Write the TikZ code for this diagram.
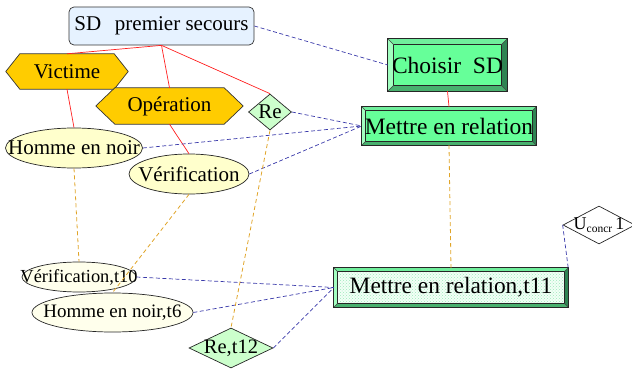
\documentclass[tikz,border=0pt]{standalone}
\usepackage{fontspec}
\setmainfont{Liberation Serif}
\usetikzlibrary{shapes.geometric,calc,patterns}

\definecolor{sdfill}{HTML}{E6F2FF}
\definecolor{hexfillc}{HTML}{FFCC00}
\definecolor{ellfill}{HTML}{FFFFCC}
\definecolor{ellpale}{HTML}{FFFFEC}
\definecolor{diafill}{HTML}{CCFFCC}
\definecolor{face}{HTML}{66FF99}
\definecolor{bvlight}{HTML}{A2FFC0}
\definecolor{bvtop}{HTML}{70EE9C}
\definecolor{bvright}{HTML}{2F8453}
\definecolor{bvbottom}{HTML}{48B06E}
\definecolor{meshbg}{HTML}{F2FFF6}
\definecolor{meshfg}{HTML}{9EEABC}
\definecolor{linkblue}{HTML}{3A3AAA}
\definecolor{linkgold}{HTML}{E0A428}
\definecolor{linkred}{HTML}{FF2020}

\newcommand\txtsize[1]{\fontsize{#1}{#1}\selectfont}

% bevelled frame around a rectangular node: name, bevel, left, top, right, bottom, face style
\newcommand\bevelbox[7]{%
  \coordinate (bA) at (#1.north west);
  \coordinate (bB) at (#1.north east);
  \coordinate (bC) at (#1.south east);
  \coordinate (bD) at (#1.south west);
  \coordinate (iA) at ($(bA)+(#2,#2)$);
  \coordinate (iB) at ($(bB)+(-#2,#2)$);
  \coordinate (iC) at ($(bC)+(-#2,-#2)$);
  \coordinate (iD) at ($(bD)+(#2,-#2)$);
  \fill[#3] (bA) -- (iA) -- (iD) -- (bD) -- cycle;
  \fill[#4] (bA) -- (bB) -- (iB) -- (iA) -- cycle;
  \fill[#5] (bB) -- (bC) -- (iC) -- (iB) -- cycle;
  \fill[#6] (bD) -- (iD) -- (iC) -- (bC) -- cycle;
  \path[#7] (iA) rectangle (iC);
  \draw[black!85, line width=0.7pt] (iA) rectangle (iC);
  \draw[black!75, line width=0.5pt] (bA)--(iA) (bB)--(iB) (bC)--(iC) (bD)--(iD);
  \draw[black!85, line width=0.9pt] (bA) rectangle (bC);
}

% hexagon drawn round a rectangular node: name, depth of the points
\newcommand\hexbox[2]{%
  \filldraw[fill=hexfillc, draw=black!80, line width=0.7pt]
    (#1.west) -- ($(#1.north west)+(#2,0)$) -- ($(#1.north east)+(-#2,0)$)
    -- (#1.east) -- ($(#1.south east)+(-#2,0)$) -- ($(#1.south west)+(#2,0)$) -- cycle;
}

\pgfdeclarelayer{bg}
\pgfsetlayers{bg,main}

\tikzset{
  plain/.style={rectangle, inner sep=0pt, minimum width=#1},
  sdbox/.style={rectangle, rounded corners=5pt, draw=black!80, line width=0.7pt,
    fill=sdfill, inner sep=0pt},
  ellnode/.style={ellipse, draw=black!85, line width=0.7pt, fill=ellfill, inner sep=0pt},
  ellpalenode/.style={ellipse, draw=black!85, line width=0.7pt, fill=ellpale, inner sep=0pt},
  dianode/.style={diamond, draw=black!85, line width=0.7pt, fill=diafill, inner sep=0pt},
  redlink/.style={linkred, line width=0.7pt},
  bluelink/.style={linkblue, line width=0.7pt, dash pattern=on 4pt off 2.5pt},
  goldlink/.style={linkgold, line width=0.8pt, dash pattern=on 4pt off 3pt},
}

\begin{document}
\begin{tikzpicture}[x=1pt, y=-1pt]
\useasboundingbox (0,0) rectangle (632,369);

% ---- nodes ----
\node[sdbox, minimum width=185pt, minimum height=38pt] (sd) at (161.5,26)
  {\txtsize{21}SD\hspace{0.65em}premier secours};

\node[plain=119pt, minimum height=52pt] (choisir) at (447.5,65)
  {\txtsize{23.5}Choisir\ \ SD};
\node[plain=174pt, minimum height=38pt] (mettre) at (449,126)
  {\txtsize{23.5}Mettre en relation};
\node[plain=234pt, minimum height=39pt] (t11) at (451,287.5)
  {\txtsize{23.4}Mettre en relation,t11};

\node[plain=122pt, minimum height=35pt] (victime) at (67,71.5)
  {\txtsize{21}Victime};
\node[plain=147pt, minimum height=36pt] (operation) at (169.5,106)
  {\txtsize{21}Opération};

\node[dianode, minimum width=43pt, minimum height=36pt] (re) at (270,112)
  {\makebox[0pt]{\txtsize{21}Re}};
\node[dianode, minimum width=84pt, minimum height=40pt] (re12) at (231,348)
  {\makebox[0pt]{\txtsize{20.5}Re,t12}};
\node[diamond, draw=black!85, line width=0.7pt, fill=white, inner sep=0pt,
      minimum width=72pt, minimum height=38pt] (uconcr) at (599,225)
  {\makebox[0pt]{\txtsize{18}U\raisebox{-3.5pt}{\txtsize{11.5}concr}\,1}};

\node[ellnode, minimum width=137pt, minimum height=40pt] (homme) at (74,148)
  {\makebox[0pt]{\txtsize{21}Homme en noir}};
\node[ellnode, minimum width=120pt, minimum height=40pt] (verif) at (189,174)
  {\makebox[0pt]{\txtsize{21}Vérification}};
\node[ellpalenode, minimum width=114pt, minimum height=30pt] (verif10) at (79,277)
  {\makebox[0pt]{\txtsize{18.4}Vérification,t10}};
\node[ellpalenode, minimum width=161pt, minimum height=39pt] (homme6) at (112.5,312.5)
  {\makebox[0pt]{\txtsize{19}Homme en noir,t6}};

% ---- drawn outlines of the hexagons and bevelled boxes ----
\begin{pgfonlayer}{bg}
  \hexbox{victime}{14}
  \hexbox{operation}{19}
  \bevelbox{choisir}{6}{bvlight}{bvtop}{bvright}{bvbottom}{fill=face}
  \bevelbox{mettre}{4}{bvlight}{bvtop}{bvright}{bvbottom}{fill=face}
  \bevelbox{t11}{4}{bvlight}{bvtop}{bvright}{bvbottom}
    {preaction={fill=meshbg}, pattern=crosshatch dots, pattern color=meshfg}
\end{pgfonlayer}

% ---- decomposition links ----
\draw[redlink] (sd.south) -- (victime.north);
\draw[redlink] (sd.south) -- (operation.north);
\draw[redlink] (sd.south) -- (re.north);
\draw[redlink] (victime.south) -- (homme.north);
\draw[redlink] (operation.south) -- (verif.north);
\draw[redlink] (choisir.south) -- (mettre.north);

% ---- association links ----
\draw[bluelink] (sd.east) -- (choisir.west);
\draw[bluelink] (re.east) -- (mettre.west);
\draw[bluelink] (homme.east) -- (mettre.west);
\draw[bluelink] (verif.east) -- (mettre.west);
\draw[bluelink] (verif10.east) -- (t11.west);
\draw[bluelink] (homme6.east) -- (t11.west);
\draw[bluelink] (re12.east) -- (t11.west);
\draw[bluelink] (uconcr.west) -- (t11.north east);

% ---- instance links ----
\draw[goldlink] (homme.south) -- (verif10.north);
\draw[goldlink] (verif.south) -- (homme6.north);
\draw[goldlink] (re.south) -- (re12.north);
\draw[goldlink] (mettre.south) -- (t11.north);
\end{tikzpicture}
\end{document}
